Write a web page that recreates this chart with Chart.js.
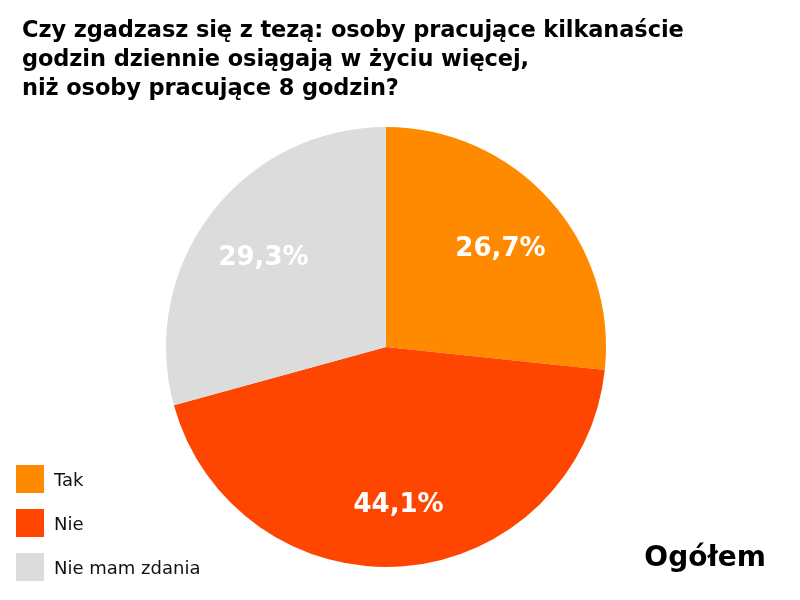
<!DOCTYPE html>
<html>
<head>
<meta charset="utf-8">
<script src="https://cdn.jsdelivr.net/npm/chart.js@4"></script>
<style>
    body { margin: 0; background: #fff; font-family: "DejaVu Sans", sans-serif; }
    #wrap { position: relative; width: 800px; height: 600px; }
    #title { position: absolute; left: 22px; top: 15px; font-size: 22.5px; font-weight: 700; line-height: 29px; color: #000; letter-spacing: -0.1px; }
    #legend { position: absolute; left: 16px; top: 465px; }
    .item { display: flex; align-items: center; height: 28px; margin-bottom: 16px; font-size: 18px; color: #111; }
    .box { width: 28px; height: 28px; margin-right: 10px; }
    #total { position: absolute; right: 34px; top: 540px; font-size: 28px; font-weight: 700; color: #000; }
</style>
</head>
<body>
<div id="wrap">
    <canvas id="chart" width="800" height="600"></canvas>
    <div id="title">Czy zgadzasz się z tezą: osoby pracujące kilkanaście<br>godzin dziennie osiągają w życiu więcej,<br>niż osoby pracujące 8 godzin?</div>
    <div id="legend"></div>
    <div id="total">Ogółem</div>
</div>
<script>
const labels = ['Tak', 'Nie', 'Nie mam zdania'];
const values = [26.7, 44.1, 29.3];
const colors = ['#ff8a00', '#ff4600', '#dcdcdc'];

document.addEventListener('DOMContentLoaded', function() {
    const legend = document.getElementById('legend');
    labels.forEach(function(label, i) {
        const item = document.createElement('div');
        item.className = 'item';
        item.innerHTML = `<span class="box" style="background:${colors[i]}"></span>${label}`;
        legend.appendChild(item);
    });

    // percentage labels inside the slices
    const sliceLabels = {
        id: 'sliceLabels',
        afterDatasetsDraw(chart) {
            const ctx = chart.ctx;
            const meta = chart.getDatasetMeta(0);
            ctx.save();
            ctx.fillStyle = '#fff';
            ctx.font = '700 26px "DejaVu Sans", sans-serif';
            ctx.textAlign = 'center';
            ctx.textBaseline = 'middle';
            meta.data.forEach(function(arc, i) {
                const p = arc.getProps(['x', 'y', 'startAngle', 'endAngle', 'outerRadius']);
                const mid = (p.startAngle + p.endAngle) / 2;
                const r = p.outerRadius * 0.7;
                const text = values[i].toFixed(1).replace('.', ',') + '%';
                ctx.fillText(text, p.x + Math.cos(mid) * r, p.y + Math.sin(mid) * r + 5);
            });
            ctx.restore();
        }
    };

    new Chart(document.getElementById('chart'), {
        type: 'pie',
        data: {
            labels: labels,
            datasets: [{
                data: values,
                backgroundColor: colors,
                borderWidth: 0
            }]
        },
        options: {
            responsive: false,
            animation: false,
            layout: { padding: { top: 127, bottom: 33, left: 0, right: 28 } },
            plugins: {
                legend: { display: false },
                tooltip: { enabled: false }
            }
        },
        plugins: [sliceLabels]
    });
});
</script>
</body>
</html>
